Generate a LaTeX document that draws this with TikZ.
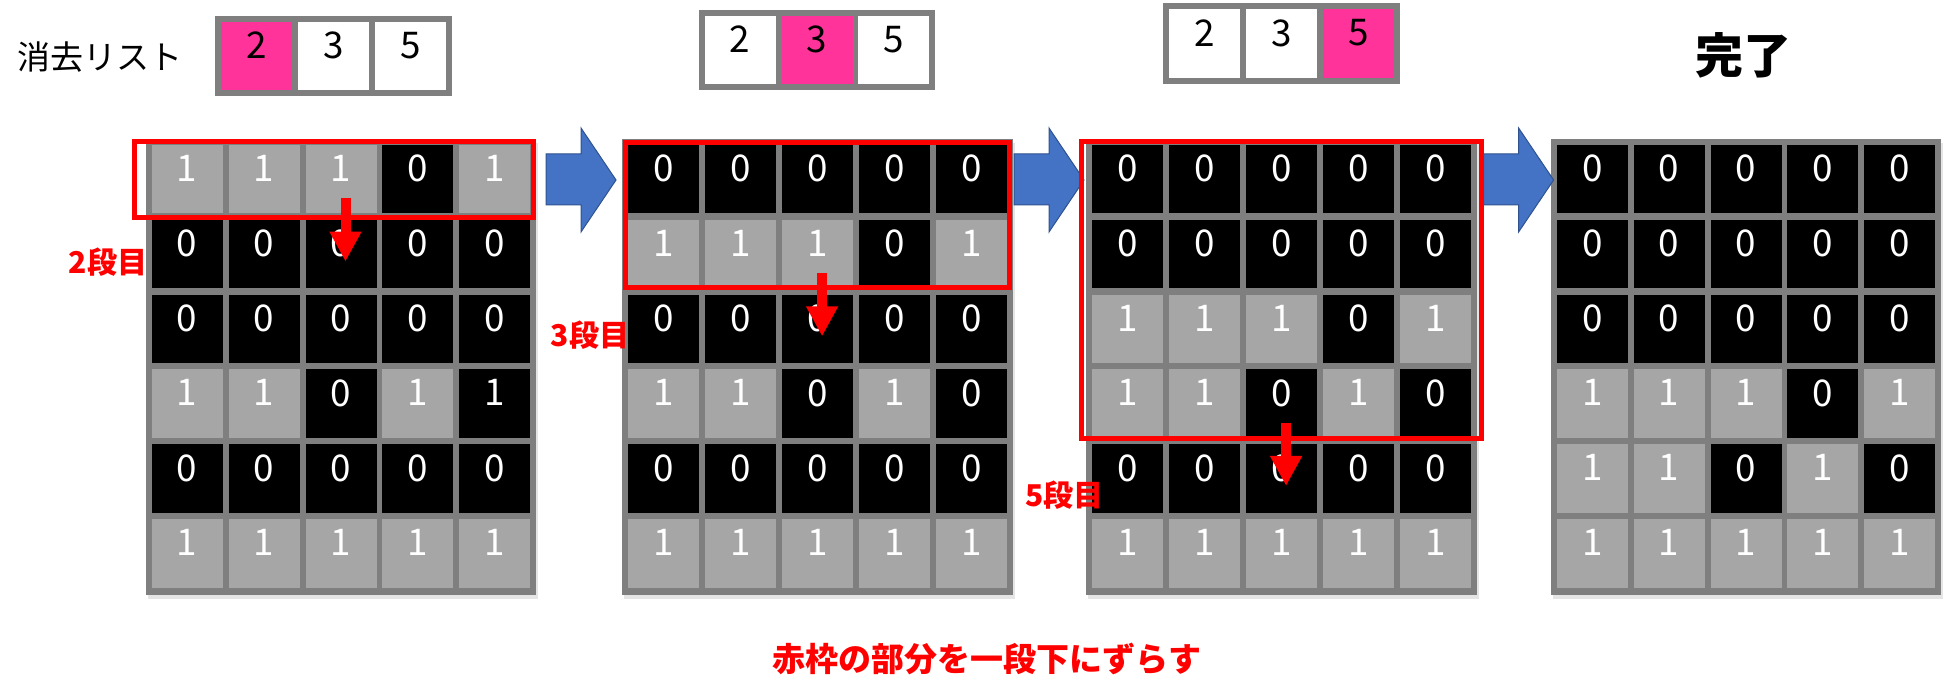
\documentclass[tikz,border=0pt]{standalone}
\usepackage{fontspec}
\setmainfont{Noto Sans CJK JP}
\usetikzlibrary{arrows.meta}

\definecolor{cellgray}{HTML}{A6A6A6}
\definecolor{framegray}{HTML}{7F7F7F}
\definecolor{pickpink}{HTML}{FF3399}
\definecolor{arrowblue}{HTML}{4472C4}
\definecolor{arrowedge}{HTML}{2F528F}

% one 5x6 board: name, left edge of the cells, rows
\newcommand{\drawgrid}[3]{%
  \fill[black!10] (#2-4,143) rectangle (#2+386.6,599);
  \fill[framegray] (#2-6,139) rectangle (#2+384.6,594.5);
  \foreach \row [count=\r from 0] in {#3} {
    \foreach \v [count=\c from 0] in \row {
      \pgfmathsetmacro{\cx}{#2+35.5+\c*76.9}
      \pgfmathsetmacro{\cy}{179.25+\r*74.8}
      \node (#1-\r-\c) at (\cx,\cy) [cell\v];
    }
  }
}

% the list 2 3 5: name, left, top, picked entry
\newcommand{\drawlist}[4]{%
  \fill[framegray] (#2-6,#3-6) rectangle (#2+230.8,#3+74.5);
  \foreach \v [count=\c from 0] in {2,3,5} {
    \ifnum\c=#4 \def\liststyle{pickcell}\else\def\liststyle{listcell}\fi
    \pgfmathsetmacro{\cx}{#2+35.5+\c*76.9}
    \pgfmathsetmacro{\cy}{#3+34.25}
    \node[\liststyle] (#1-\c) at (\cx,\cy) {\v};
  }
}

\begin{document}
\begin{tikzpicture}[
                x=0.5pt, y=-0.5pt,
                zerocell/.style={rectangle, fill=black, text=white, inner sep=0pt, minimum width=35.5pt, minimum height=34.25pt, text depth=10.8pt, font=\fontsize{18.4pt}{18.4pt}\selectfont},
                onecell/.style={zerocell, fill=cellgray},
                cell0/.style={zerocell, node contents=0},
                cell1/.style={onecell, node contents=1},
                cell2/.style={zerocell, node contents=1},
                listcell/.style={zerocell, fill=white, text=black},
                pickcell/.style={zerocell, fill=pickpink, text=black},
                redframe/.style={draw=red, line width=2.5pt},
                downarrow/.style={draw=red, line width=5pt, -{Triangle[width=15pt, length=15pt]}},
                shiftarrow/.style={fill=arrowblue, draw=arrowedge, line width=0.5pt},
                steplabel/.style={text=red, font=\bfseries\fontsize{15pt}{15pt}\selectfont},
                ]
                \useasboundingbox (0,0) rectangle (1954,695);

                \node (listname) at (100,57) {\fontsize{16.5pt}{16.5pt}\selectfont 消去リスト};
                \drawlist{la}{221.4}{21.7}{0}
                \drawlist{lb}{704.6}{15.7}{1}
                \drawlist{lc}{1169.3}{9.3}{2}
                \node[font=\bfseries\fontsize{24pt}{24pt}\selectfont] (done) at (1743,55) {完了};

                \drawgrid{ga}{151.7}{{1,1,1,0,1},{0,0,0,0,0},{0,0,0,0,0},{1,1,0,1,2},{0,0,0,0,0},{1,1,1,1,1}}
                \drawgrid{gb}{628.3}{{0,0,0,0,0},{1,1,1,0,1},{0,0,0,0,0},{1,1,0,1,0},{0,0,0,0,0},{1,1,1,1,1}}
                \drawgrid{gc}{1092.3}{{0,0,0,0,0},{0,0,0,0,0},{1,1,1,0,1},{1,1,0,1,0},{0,0,0,0,0},{1,1,1,1,1}}
                \drawgrid{gd}{1556.7}{{0,0,0,0,0},{0,0,0,0,0},{0,0,0,0,0},{1,1,1,0,1},{1,1,0,1,0},{1,1,1,1,1}}

                % block arrows between the boards
                \foreach \xa in {546,1014,1483.6}
                    \filldraw[shiftarrow] (\xa,154) -- ++(35,0) -- ++(0,-26) -- ++(35,52) -- ++(-35,52) -- ++(0,-27) -- ++(-35,0) -- cycle;

                \draw[redframe] (134,141.8) rectangle (533.5,217.5);
                \draw[redframe] (625.5,142.5) rectangle (1009.5,287.5);
                \draw[redframe] (1081.5,141.8) rectangle (1481.5,438.5);

                \draw[downarrow] ([shift={(4.5,-15.5)}]ga-0-2.south) -- ([shift={(4.5,7.5)}]ga-1-2.center);
                \draw[downarrow] ([shift={(4.5,-15.5)}]gb-1-2.south) -- ([shift={(4.5,7.5)}]gb-2-2.center);
                \draw[downarrow] ([shift={(4.5,-15.5)}]gc-3-2.south) -- ([shift={(4.5,7.5)}]gc-4-2.center);

                \node[steplabel] (stepa) at (108,262) {2段目};
                \node[steplabel] (stepb) at (590,335.5) {3段目};
                \node[steplabel] (stepc) at (1064.5,495.5) {5段目};
                \node[steplabel, font=\bfseries\fontsize{16.5pt}{16.5pt}\selectfont] (note) at (987,659) {赤枠の部分を一段下にずらす};
            \end{tikzpicture}
\end{document}
